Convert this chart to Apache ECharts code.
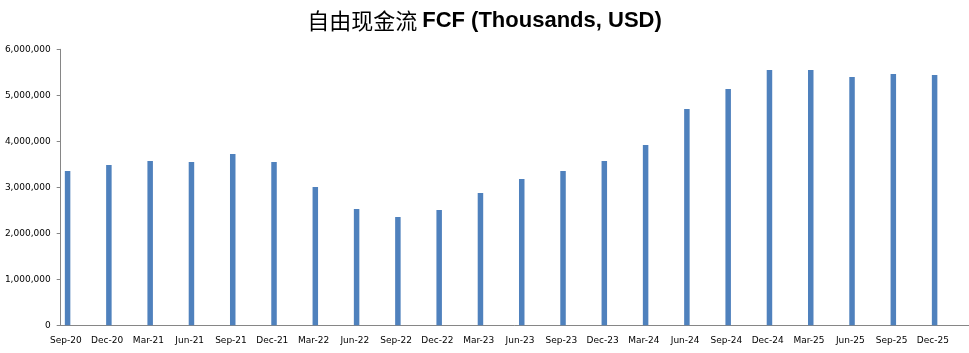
<!DOCTYPE html>
<html>
  <head>
    <meta charset="utf-8" />
    <title>自由现金流 FCF</title>
    <script src="https://cdn.jsdelivr.net/npm/echarts@6/dist/echarts.min.js"></script>
    <style>
      html, body { margin: 0; padding: 0; background: #fff; }
      #main { width: 969px; height: 353px; }
    </style>
  </head>
  <body>
    <div id="main"></div>
    <script type="text/javascript">
      // 季度
      var quarters = [
        "Sep-20", "Dec-20", "Mar-21", "Jun-21", "Sep-21", "Dec-21",
        "Mar-22", "Jun-22", "Sep-22", "Dec-22", "Mar-23", "Jun-23",
        "Sep-23", "Dec-23", "Mar-24", "Jun-24", "Sep-24", "Dec-24",
        "Mar-25", "Jun-25", "Sep-25", "Dec-25"
      ];
      // 自由现金流 (千美元)
      var fcf = [
        3354000, 3485000, 3572000, 3550000, 3724000, 3550000,
        3007000, 2528000, 2354000, 2507000, 2876000, 3180000,
        3354000, 3572000, 3918000, 4702000, 5137000, 5550000,
        5550000, 5398000, 5463000, 5441000
      ];
      // 空系列, 用来把柱子挤到每格左边
      var spacer = quarters.map(function () { return null; });
      var yTicks = [0, 1000000, 2000000, 3000000, 4000000, 5000000, 6000000];

      var myChart = echarts.init(document.getElementById("main"));
      var option = {
        backgroundColor: "#fff",
        animation: false,
        title: {
          text: "{cn|自由现金流} {en|FCF (Thousands, USD)}",
          left: "center",
          top: 5,
          textStyle: {
            rich: {
              cn: { fontFamily: "Noto Sans CJK SC", fontSize: 22, color: "#000", fontWeight: "normal" },
              en: { fontFamily: "Liberation Sans Narrow, Liberation Sans", fontSize: 22, color: "#000", fontWeight: "bold" }
            }
          }
        },
        grid: { left: 60.7, right: -5.6, top: 49.3, bottom: 27.7 },
        xAxis: {
          type: "category",
          data: quarters,
          axisLine: { lineStyle: { color: "#868686", width: 1 } },
          axisTick: { length: 4, lineStyle: { color: "#868686" } },
          axisLabel: {
            interval: 0,
            margin: 11,
            padding: [0, 31, 0, 0],
            color: "#000",
            fontFamily: "DejaVu Sans",
            fontSize: 9
          }
        },
        yAxis: {
          type: "value",
          min: yTicks[0],
          max: yTicks[yTicks.length - 1],
          interval: 1000000,
          axisLine: { show: true, lineStyle: { color: "#868686", width: 1 } },
          axisTick: { show: true, length: 4, lineStyle: { color: "#868686" } },
          splitLine: { show: false },
          axisLabel: {
            margin: 10,
            color: "#000",
            fontFamily: "DejaVu Sans",
            fontSize: 9,
            formatter: function (v) { return v.toLocaleString("en-US"); }
          }
        },
        series: [
          {
            name: "FCF",
            type: "bar",
            data: fcf,
            barWidth: 5.5,
            barGap: "400%",
            itemStyle: { color: "#4F81BD" }
          },
          {
            name: "spacer",
            type: "bar",
            data: spacer,
            barWidth: 5.5
          }
        ]
      };
      myChart.setOption(option);
    </script>
  </body>
</html>
